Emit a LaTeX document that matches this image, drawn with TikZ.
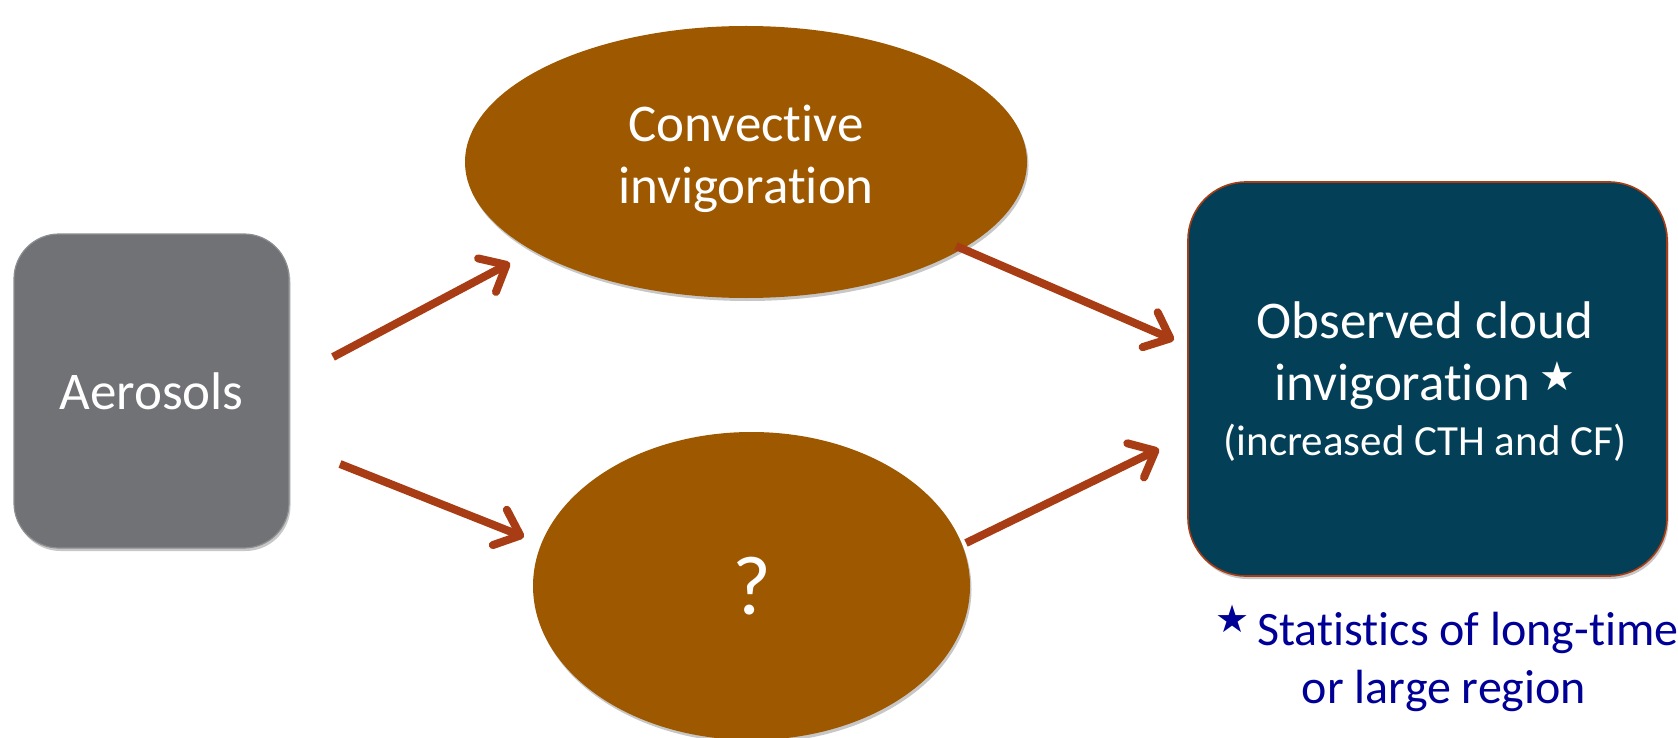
\documentclass[tikz,border=0pt]{standalone}
\usepackage{fontspec}
\setmainfont{Carlito}[Ligatures=NoCommon]
\newfontfamily\symfont{DejaVu Sans}
\usetikzlibrary{arrows.meta,shapes.geometric,shadows}
\definecolor{boxgray}{RGB}{113,114,118}
\definecolor{ellbrown}{RGB}{158,88,0}
\definecolor{arrowrust}{RGB}{168,60,20}
\definecolor{darkteal}{RGB}{3,63,86}
\definecolor{navytext}{RGB}{0,0,150}
\begin{document}
\begin{tikzpicture}[x=1pt,y=-1pt,
  shd/.style={drop shadow={shadow xshift=1.5pt,shadow yshift=-3pt,opacity=0.22,fill=black}},
  graybox/.style={rectangle,rounded corners=45pt,fill=boxgray,draw=boxgray!80!white,line width=1.2pt,
    minimum width=275pt,minimum height=314pt,inner sep=0pt,shd,text=white,
    font=\fontsize{53}{62}\selectfont},
  tealbox/.style={rectangle,rounded corners=58pt,fill=darkteal,draw=arrowrust,line width=1.6pt,
    minimum width=479pt,minimum height=394pt,inner sep=0pt,shd},
  brownell/.style={ellipse,fill=ellbrown,inner sep=0pt,shd,text=white},
  wtxt/.style={text=white,inner sep=0pt,anchor=base},
  btxt/.style={text=navytext,inner sep=0pt,anchor=base,font=\fontsize{48}{56}\selectfont},
  conn/.style={draw=arrowrust,line width=8pt,-{Straight Barb[length=22pt,width=38pt,round]}}
]
\useasboundingbox (0,0) rectangle (1678,738);

% shapes
\node[graybox] (aer) at (151.5,391) {Aerosols};
\node[brownell,minimum width=562pt,minimum height=272pt] (conv) at (746,162) {};
\node[brownell,minimum width=437pt,minimum height=308pt,font=\fontsize{84}{90}\selectfont] (quest) at (751.5,586) {?};
\node[tealbox] (obs) at (1427.5,379) {};

% texts
\node[wtxt,font=\fontsize{53}{62}\selectfont] (conv1) at (746,142) {Convective};
\node[wtxt,font=\fontsize{53}{62}\selectfont] (conv2) at (746,204) {invigoration};
\node[wtxt,font=\fontsize{53}{62}\selectfont] (obs1) at (1425,338) {Observed cloud};
\node[wtxt,font=\fontsize{53}{62}\selectfont] (obs2) at (1425,400)
  {invigoration\hspace{10pt}\raisebox{10pt}{\symfont\fontsize{40}{40}\selectfont ★}};
\node[wtxt,font=\fontsize{43}{50}\selectfont] (obs3) at (1425,455) {(increased CTH and CF)};
\node[btxt] (stat1) at (1447,645)
  {\raisebox{13pt}{\symfont\fontsize{38}{38}\selectfont ★}\hspace{8pt}Statistics of long-time};
\node[btxt] (stat2) at (1444,703) {or large region};

% connectors
\coordinate (a1s) at (333,357); \coordinate (a1e) at (510,263);
\coordinate (a2s) at (340,464); \coordinate (a2e) at (524,537);
\coordinate (a3s) at (956,246); \coordinate (a3e) at (1174,340);
\coordinate (a4s) at (966,543); \coordinate (a4e) at (1159,449);
\draw[conn] (a1s) -- (a1e);
\draw[conn] (a2s) -- (a2e);
\draw[conn] (a3s) -- (a3e);
\draw[conn] (a4s) -- (a4e);
\end{tikzpicture}
\end{document}
